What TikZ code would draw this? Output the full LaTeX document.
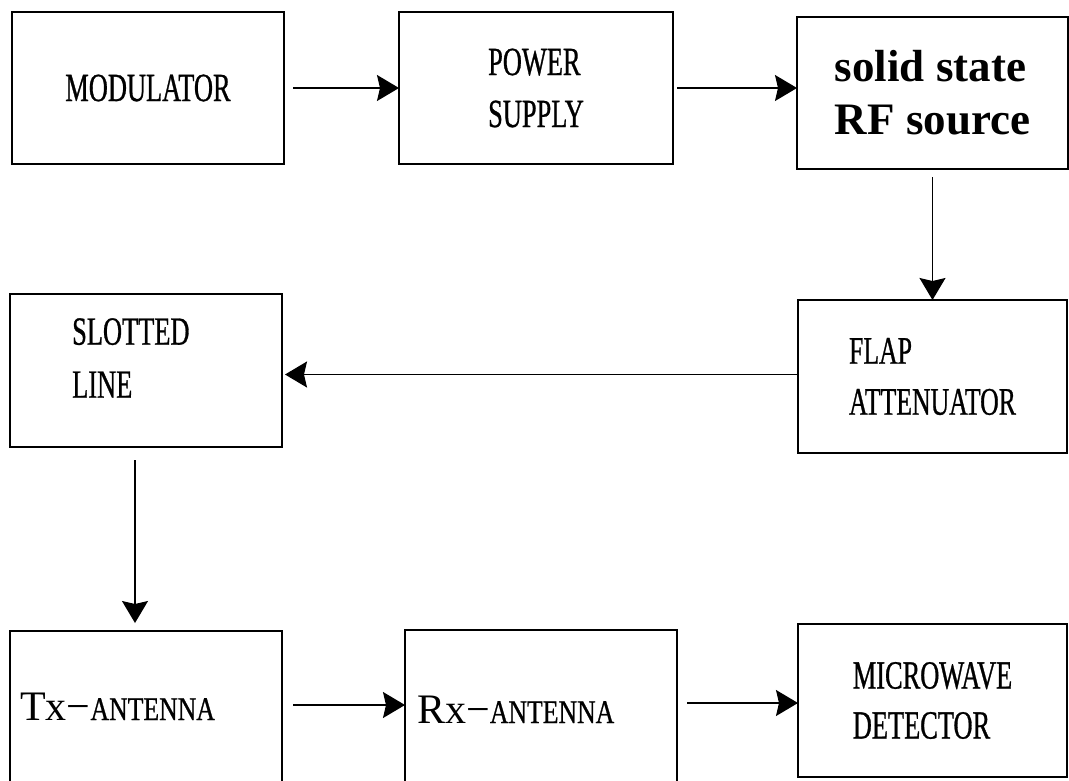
\documentclass[tikz,border=0pt]{standalone}
\usepackage{fontspec}
\setmainfont{Liberation Serif}
\newfontfamily\condfont[FakeStretch=0.66,FakeBold=0.7]{Liberation Serif}
\newfontfamily\antfont[FakeStretch=0.78,FakeBold=0.7]{Liberation Serif}
\usetikzlibrary{arrows.meta}

\begin{document}
\begin{tikzpicture}[x=1pt,y=-1pt,
  blk/.style={draw,line width=1.6pt,outer sep=0pt,inner sep=0pt,anchor=north west,
    align=left,font=\condfont\fontsize{40}{52}\selectfont},
  lbl/.style={inner sep=0pt,anchor=north west,align=left,font=\condfont\fontsize{40}{53}\selectfont},
  flow/.style={line width=1.4pt,-{Stealth[length=22pt,width=26pt,inset=3pt]}}]
  \useasboundingbox (0,0) rectangle (1069,780);
  % Top row
  \node[blk,minimum width=272pt,minimum height=152pt] (mod) at (12,12) {MODULATOR};
  \node[blk,minimum width=274pt,minimum height=152pt] (pow) at (399,12) {POWER\\SUPPLY};
  \node[blk,minimum width=271pt,minimum height=152pt,
    font=\bfseries\fontsize{45}{53}\selectfont] (rfs) at (797,17) {solid state\\RF source};
  % Middle row
  \node[blk,minimum width=269pt,minimum height=153pt,
    font=\condfont\fontsize{39}{51}\selectfont] (flap) at (798,300) {FLAP\\ATTENUATOR};
  \node[blk,minimum width=272pt,minimum height=153pt] (slot) at (10,294) {};
  \node[lbl] (slottxt) at (72,318) {SLOTTED\\LINE};
  % Bottom row (boxes run off the page)
  \node[blk,minimum width=272pt,minimum height=170pt] (tx) at (10,631) {};
  \node[blk,minimum width=272pt,minimum height=170pt] (rx) at (405,630) {};
  \node[blk,minimum width=269pt,minimum height=153pt,
    font=\condfont\fontsize{40}{50}\selectfont] (det) at (798,624) {MICROWAVE\\DETECTOR};
  \node[inner sep=0pt,anchor=base west] (txtxt) at (20,720)
    {\fontsize{42}{50}\selectfont Tx−{\antfont\fontsize{33}{40}\selectfont ANTENNA}};
  \node[inner sep=0pt,anchor=base west] (rxtxt) at (417,723)
    {\fontsize{42}{50}\selectfont Rx−{\antfont\fontsize{33}{40}\selectfont ANTENNA}};
  % Signal path
  \draw[flow] ([xshift=9pt]mod.east) -- (pow.west);
  \draw[flow] ([xshift=4pt]pow.east) -- (pow.east -| rfs.west);
  \draw[flow] ([yshift=-8pt]rfs.south) -- (flap.north);
  \draw[flow,shorten >=3pt] ([yshift=2pt]flap.west) -- ([yshift=2pt]flap.west -| slot.east);
  \draw[flow] ([xshift=-11pt,yshift=-13pt]slot.south) -- ([xshift=-11pt,yshift=8pt]tx.north);
  \draw[flow] ([xshift=11pt,yshift=11pt]tx.east) -- ([yshift=11pt]tx.east -| rx.west);
  \draw[flow] ([xshift=10pt,yshift=12pt]rx.east) -- ([yshift=12pt]rx.east -| det.west);
\end{tikzpicture}
\end{document}
